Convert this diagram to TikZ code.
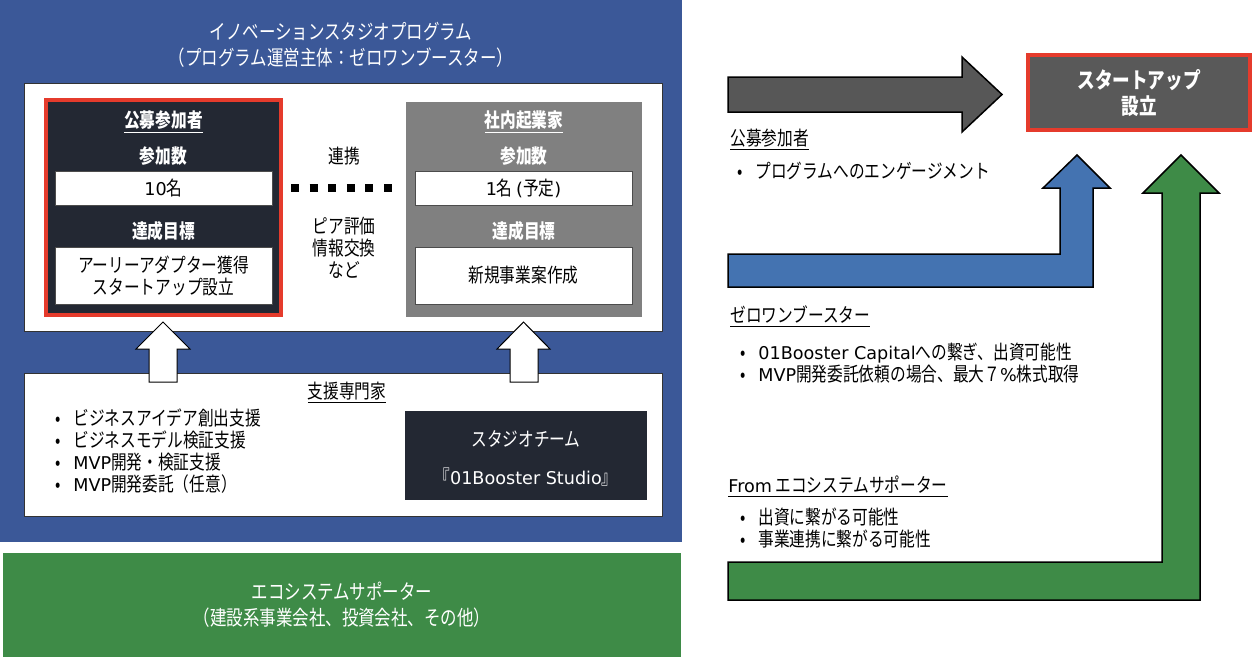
\documentclass[tikz,border=0pt]{standalone}
\usepackage{fontspec}
\setmainfont[FakeStretch=0.8]{Noto Sans CJK JP}
\newfontfamily\lat{DejaVu Sans}
\definecolor{progblue}{HTML}{3B5898}
\definecolor{darkbox}{HTML}{232833}
\definecolor{redline}{HTML}{E53B2C}
\definecolor{graybox}{HTML}{808080}
\definecolor{ecogreen}{HTML}{3E8B47}
\definecolor{arrowblue}{HTML}{4473B1}
\definecolor{arrowgray}{HTML}{575757}
\definecolor{startgray}{HTML}{595959}
\newcommand{\tsz}{\fontsize{10.3}{13}\selectfont}
\newcommand{\bsz}{\fontsize{9.8}{11}\selectfont}
\newcommand{\bul}{\makebox[9pt][l]{•}}
\newcommand{\lt}[1]{{\lat\fontsize{8.8}{11}\selectfont #1}}
\tikzset{
  plain/.style={inner sep=0pt, outer sep=0pt},
  panel/.style={plain, fill=white, draw=black!80, line width=0.5pt},
  wbox/.style={plain, fill=white, draw=black!70, line width=0.4pt, minimum width=108.5pt},
  wtxt/.style={inner sep=0pt, text=white, font=\bsz\bfseries, align=center},
  btxt/.style={inner sep=0pt, text=black, font=\bsz, align=center},
  ltxt/.style={inner sep=0pt, text=black, font=\bsz, align=left, anchor=west},
  uparrow/.style={fill=white, draw=black, line width=0.5pt, line join=miter},
  bigarrow/.style={draw=black, line width=0.75pt, line join=miter},
  dotsq/.style={line width=4pt, dash pattern=on 4pt off 5.3pt, black}
}
\begin{document}
\begin{tikzpicture}[x=0.5pt,y=-0.5pt]
\useasboundingbox (0,0) rectangle (1256,660);

% ---- program panel ----
\node[plain, fill=progblue, minimum width=341pt, minimum height=271pt] (prog) at (341,271) {};
\node[inner sep=0pt, text=white, font=\tsz, align=center] (ptitle) at (341,45)
  {イノベーションスタジオプログラム\\（プログラム運営主体：ゼロワンブースター）};

\node[panel, minimum width=319pt, minimum height=124pt] (upper) at (343,207) {};

% public participants
\node[plain, fill=darkbox, draw=redline, line width=2pt, minimum width=117.5pt, minimum height=107.5pt] (pub) at (163.5,207.5) {};
\node[wtxt] (pubt) at (163.5,122) {\underline{公募参加者}};
\node[wtxt] (pubn) at (163.5,156) {参加数};
\node[wbox, minimum height=17pt] (pubv) at (163.5,188) {};
\node[btxt] (pubvt) at (pubv) {\lt{10}名};
\node[wtxt] (pubg) at (163.5,231) {達成目標};
\node[wbox, minimum height=28.5pt] (pubgv) at (163.5,275.5) {};
\node[btxt] (pubgvt) at (pubgv) {アーリーアダプター獲得\\スタートアップ設立};

% intrapreneurs
\node[plain, fill=graybox, minimum width=118pt, minimum height=107.5pt] (intra) at (524,209.5) {};
\node[wtxt] (intrat) at (524,122) {\underline{社内起業家}};
\node[wtxt] (intran) at (524,156) {参加数};
\node[wbox, minimum height=17pt] (intrav) at (523.5,188) {};
\node[btxt] (intravt) at (intrav) {\lt{1}名 \lt{(}予定\lt{)}};
\node[wtxt] (intrag) at (524,231) {達成目標};
\node[wbox, minimum height=28.5pt] (intragv) at (523.5,275.5) {};
\node[btxt] (intragvt) at (intragv) {新規事業案作成};

% link in the middle
\node[btxt] (link) at (344,156) {連携};
\coordinate (d1) at (291,188);
\coordinate (d2) at (392,188);
\draw[dotsq] (d1) -- (d2);
\node[btxt] (peer) at (344,248) {ピア評価\\情報交換\\など};

% lower panel (experts)
\node[panel, minimum width=319pt, minimum height=71.5pt] (lower) at (343,444.5) {};
\node[btxt] (expt) at (347,393) {\underline{支援専門家}};
\node[ltxt] (expl) at (55,451) {\bul ビジネスアイデア創出支援\\\bul ビジネスモデル検証支援\\\bul \lt{MVP}開発・検証支援\\\bul \lt{MVP}開発委託（任意）};
\node[plain, fill=darkbox, minimum width=121pt, minimum height=44.5pt] (studio) at (526,455.5) {};
\node[wtxt, font=\bsz] (studiot) at (526,439) {スタジオチーム};
\node[wtxt, font=\bsz] (studion) at (526,477) {『\lt{01Booster Studio}』};

% white up arrows (lower -> upper)
\draw[uparrow] (149,382) -- (149,349) -- (136,349) -- (163,322) -- (190,349) -- (177,349) -- (177,382) -- cycle;
\draw[uparrow] (510,382) -- (510,349) -- (497,349) -- (523.5,322) -- (550,349) -- (538,349) -- (538,382) -- cycle;

% ---- ecosystem supporters ----
\node[plain, fill=ecogreen, minimum width=339pt, minimum height=52pt] (eco) at (342,605) {};
\node[inner sep=0pt, text=white, font=\tsz, align=center] (ecot) at (342,605)
  {エコシステムサポーター\\（建設系事業会社、投資会社、その他）};

% ---- right side ----
\node[plain, fill=startgray, draw=redline, line width=2pt, minimum width=111pt, minimum height=37.5pt] (start) at (1139,92.5) {};
\node[inner sep=0pt, text=white, font=\fontsize{11}{13}\selectfont\bfseries, align=center] (startt) at (start) {スタートアップ\\設立};

\draw[bigarrow, fill=arrowgray] (728,77) -- (962,77) -- (962,57) -- (1002,94.5) -- (962,132) -- (962,112) -- (728,112) -- cycle;
\node[ltxt] (r1h) at (730,140) {\underline{公募参加者}};
\node[ltxt] (r1b) at (737,171) {\bul プログラムへのエンゲージメント};

\draw[bigarrow, fill=arrowblue] (728,254) -- (1060,254) -- (1060,188) -- (1043,188) -- (1077,155) -- (1110,188) -- (1093,188) -- (1093,287) -- (728,287) -- cycle;
\node[ltxt] (r2h) at (730,317) {\underline{ゼロワンブースター}};
\node[ltxt] (r2b) at (740,363) {\bul \lt{01Booster Capital}への繋ぎ、出資可能性\\\bul \lt{MVP}開発委託依頼の場合、最大７\lt{\%}株式取得};

\draw[bigarrow, fill=ecogreen] (728,562) -- (1162,562) -- (1162,193) -- (1143,193) -- (1181,155) -- (1219,193) -- (1200,193) -- (1200,600) -- (728,600) -- cycle;
\node[ltxt] (r3h) at (728,487) {\underline{\lt{From} エコシステムサポーター}};
\node[ltxt] (r3b) at (740,528) {\bul 出資に繋がる可能性\\\bul 事業連携に繋がる可能性};
\end{tikzpicture}
\end{document}
